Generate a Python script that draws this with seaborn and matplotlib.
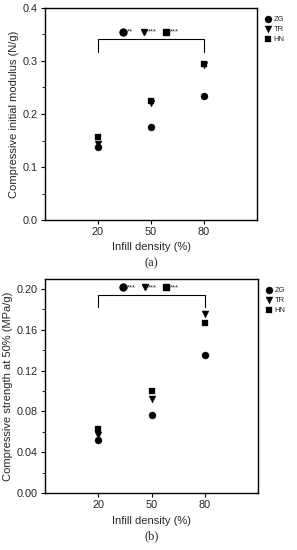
import numpy as np
import pandas as pd
import seaborn as sns
import matplotlib.pyplot as plt
from matplotlib.ticker import MultipleLocator

sns.set_theme(style="ticks")
plt.rcParams['font.family'] = ['Liberation Sans', 'DejaVu Sans']

infill = ['20', '50', '80']
groups = ['ZG', 'TR', 'HN']
markers = {'ZG': 'o', 'TR': 'v', 'HN': 's'}
sizes = {'ZG': 26, 'TR': 26, 'HN': 20}

modulus_ZG = [0.137, 0.175, 0.234]
modulus_TR = [0.144, 0.220, 0.293]
modulus_HN = [0.156, 0.224, 0.295]

strength_ZG = [0.052, 0.076, 0.135]
strength_TR = [0.057, 0.092, 0.175]
strength_HN = [0.063, 0.100, 0.167]

sig_a = ['**', '***', '***']
sig_b = ['***', '***', '***']

df_a = pd.DataFrame({
    'Infill': infill * 3,
    'Group': np.repeat(groups, 3),
    'Value': modulus_ZG + modulus_TR + modulus_HN,
})
df_b = pd.DataFrame({
    'Infill': infill * 3,
    'Group': np.repeat(groups, 3),
    'Value': strength_ZG + strength_TR + strength_HN,
})

fig = plt.figure(figsize=(2.97, 5.5), dpi=100)
ax_a = fig.add_axes([45/297, 1 - 220/550, 212/297, 212/550])
ax_b = fig.add_axes([45/297, 1 - 493/550, 213/297, 214/550])


def panel(ax, df, ylim, major, minor, fmt, ylabel, bracket, sigs, sig_y, letter):
    for g in groups:
        sub = df[df['Group'] == g]
        sns.scatterplot(data=sub, x='Infill', y='Value', marker=markers[g],
                        color='black', s=sizes[g], edgecolor='black', linewidth=0.2,
                        ax=ax, label=g, zorder=3)
    ax.set_xlim(-1, 3)
    ax.set_ylim(*ylim)
    ax.yaxis.set_major_locator(MultipleLocator(major))
    ax.yaxis.set_minor_locator(MultipleLocator(minor))
    ax.yaxis.set_major_formatter(plt.FormatStrFormatter(fmt))
    ax.tick_params(axis='both', which='major', direction='out', length=3,
                   width=0.8, labelsize=7.8, pad=2, color='black')
    ax.tick_params(axis='y', which='minor', direction='out', length=2,
                   width=0.6, color='black')
    for sp in ax.spines.values():
        sp.set_visible(True)
        sp.set_color('black')
        sp.set_linewidth(1.0)
    ax.set_xlabel('Infill density (%)', fontsize=8, labelpad=4)
    ax.set_ylabel(ylabel, fontsize=8, labelpad=3)
    # bracket
    y_top, y_bot = bracket
    ax.plot([0, 0, 2, 2], [y_bot, y_top, y_top, y_bot], color='black', lw=0.8)
    # significance markers
    xs = [0.47, 0.87, 1.28]
    for x, g, s in zip(xs, groups, sigs):
        ax.plot([x], [sig_y], marker=markers[g], color='black',
                ms=5 if g != 'HN' else 4.5, ls='none')
        ax.text(x + 0.07, sig_y, s, fontsize=5.5, va='center', ha='left')
    ax.legend(loc='upper left', bbox_to_anchor=(1.01, 0.985), frameon=False,
              fontsize=5.5, handletextpad=0.3, labelspacing=0.35,
              handlelength=1.0, borderaxespad=0.2, markerscale=1.0)
    ax.text(0.5, -0.175, letter, transform=ax.transAxes, ha='center', va='top',
            fontsize=9, family='Liberation Serif')


panel(ax_a, df_a, (0, 0.4), 0.1, 0.05, '%.1f', 'Compressive initial modulus (N/g)',
      (0.3415, 0.3175), sig_a, 0.355, '(a)')
panel(ax_b, df_b, (0, 0.2098), 0.04, 0.02, '%.2f', 'Compressive strength at 50% (MPa/g)',
      (0.194, 0.1827), sig_b, 0.2015, '(b)')

fig.savefig('out.png', dpi=100)
